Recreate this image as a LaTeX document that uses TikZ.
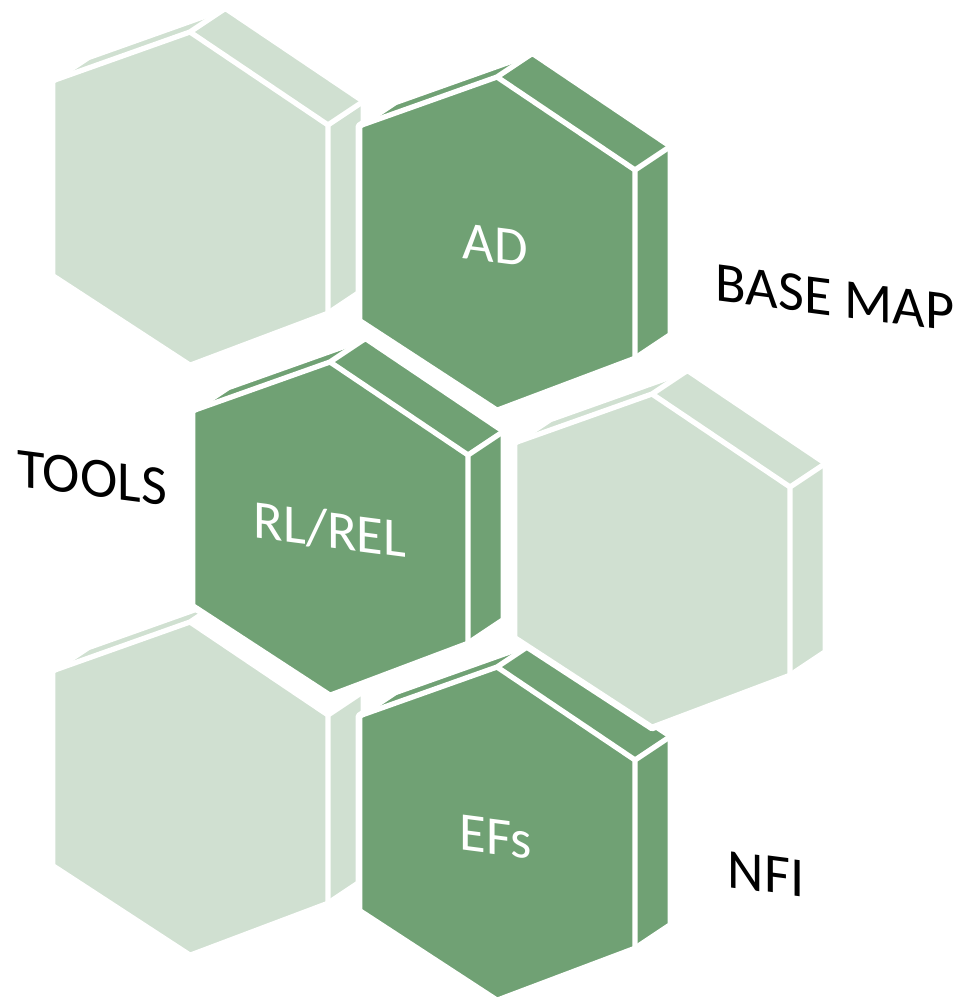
\documentclass[tikz,border=0pt]{standalone}
\usepackage{fontspec}
\setmainfont{Carlito}
\usepackage{tikz}
\usetikzlibrary{positioning,calc}
\definecolor{hexdark}{RGB}{112,161,116}
\definecolor{hexlight}{RGB}{208,224,209}
\tikzstyle{prism} = [draw=white, line width=1.9pt, line join=round]
\tikzstyle{ridge} = [draw=white, line width=1.5pt, line cap=round]
\tikzstyle{hexlabel} = [text=white, font=\fontsize{15.5}{18}\selectfont, yslant=-0.13]
\tikzstyle{sidelabel} = [text=black, font=\fontsize{16}{19}\selectfont, yslant=-0.13]

% #1 name, #2 centre of the front face, #3 fill colour
\newcommand{\hexprism}[3]{%
  \begin{scope}[shift={(#2)}]
    \coordinate (#1-ul) at (-138,-119);
    \coordinate (#1-t)  at (0,-168);
    \coordinate (#1-ur) at (138,-75);
    \coordinate (#1-lr) at (138,114);
    \coordinate (#1-b)  at (0,166);
    \coordinate (#1-ll) at (-138,76);
    % back edges, pushed by (36,-24)
    \coordinate (#1-ulb) at (-102,-143);
    \coordinate (#1-tb)  at (36,-192);
    \coordinate (#1-urb) at (174,-99);
    \coordinate (#1-lrb) at (174,90);
    \path[prism, fill=#3] (#1-ll) -- (#1-ul) -- (#1-ulb) -- (#1-tb) -- (#1-urb)
      -- (#1-lrb) -- (#1-lr) -- (#1-b) -- cycle;
    \path[ridge] (#1-ul) -- (#1-t) -- (#1-ur) -- (#1-lr)
      (#1-t) -- (#1-tb) (#1-ur) -- (#1-urb);
  \end{scope}}

\begin{document}
\begin{tikzpicture}[x=0.01cm, y=-0.01cm]
  \useasboundingbox (0,0) rectangle (965,1004);

  \hexprism{topleft}{190,200}{hexlight}
  \hexprism{ad}{497,245}{hexdark}
  \hexprism{botleft}{190,790}{hexlight}
  % top band of this one sits behind rl
  \fill[white] (botleft-t) -- (botleft-tb) -- (botleft-urb) -- (botleft-ur) -- cycle;
  \hexprism{rl}{330,530}{hexdark}
  \hexprism{ef}{497,835}{hexdark}
  \hexprism{right}{652,562}{hexlight}

  \node[hexlabel] (adtext) at (495,245) {AD};
  \node[hexlabel] (rltext) at (330,530) {RL/REL};
  \node[hexlabel] (eftext) at (496,837) {EFs};

  \node[sidelabel] (basemap) at (835,298) {BASE MAP};
  \node[sidelabel] (tools) at (92,478) {TOOLS};
  \node[sidelabel] (nfi) at (766,874) {NFI};
\end{tikzpicture}
\end{document}
